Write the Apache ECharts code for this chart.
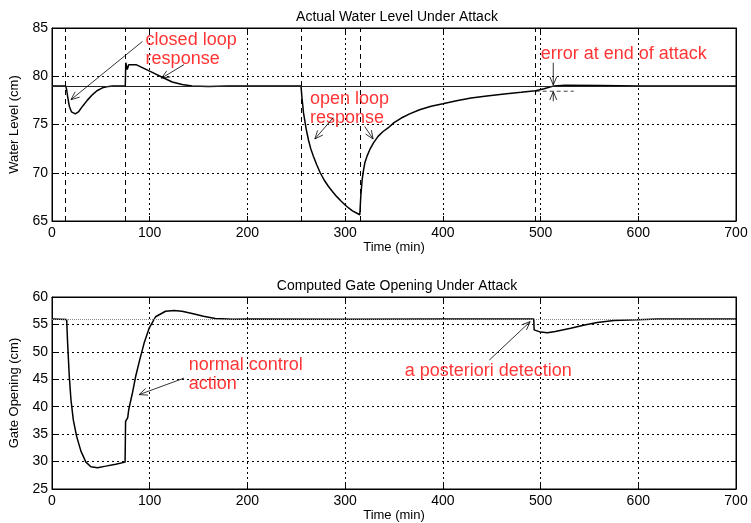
<!DOCTYPE html>
<html>
<head>
<meta charset="utf-8">
<script src="https://cdn.jsdelivr.net/npm/echarts@6/dist/echarts.min.js"></script>
<style>html,body{margin:0;padding:0;background:#fff}#c{width:751px;height:523px}</style>
</head>
<body>
<div id="c"></div>
<script>
// ---- data ----
const xTicks = [0, 100, 200, 300, 400, 500, 600, 700];
const levelTicks = [65, 70, 75, 80, 85];
const gateTicks = [25, 30, 35, 40, 45, 50, 55, 60];

const levelTime = [0,14,15,16,17.7,20,23.8,27,31.3,36,41.5,46,51.7,58,62,75,75.5,77,78.5,80.5,86,92.4,102.6,112.8,123,133.2,143.4,160,180,254.8,255.8,257.4,260,262.4,264.8,267.5,271,274.5,278.5,282.8,287,291.2,295.5,299.7,303.5,307.5,311.6,315,316,317.4,318.7,320.1,322.5,325.2,329,333.7,338.5,343.9,350,357.5,366,376.2,388,400,414,428.9,445,462.9,480,495,503.6,513.7,525,560,600,700];
const levelValue = [79,79,78.6,77.9,76.9,76.3,76.1,76.3,76.9,77.5,78.1,78.5,78.8,78.95,79,79,81.4,80.7,81.2,81.4,81.2,80.9,80.4,79.9,79.4,79.15,78.98,78.95,79,79,77.8,76.2,74.6,73.42,72.5,71.7,70.8,70.0,69.25,68.6,68.05,67.55,67.1,66.69,66.35,66.05,65.83,65.65,67.55,69.28,70.2,71.0,71.75,72.39,73.1,73.77,74.25,74.64,75.2,75.67,76.1,76.53,76.9,77.15,77.45,77.75,77.95,78.16,78.33,78.5,78.7,79.0,79.08,79.05,79,79];

const gateTime = [0,15,16,17.7,19.4,21.8,25.2,29.6,34.7,39.8,46.6,55,65.2,74.8,75.3,77.5,78.5,82.3,85.6,89.7,94.2,99.3,106,116.2,124.8,133,143.4,155,167,185,200,300,400,493,493.4,500,507,515,530.8,545,558,575,598.8,620,700];
const gateValue = [56,55.9,51.55,45.5,41.27,37.6,34.6,31.9,29.9,29.06,28.88,29.17,29.53,29.9,37.33,38.0,39.45,42.5,45.5,48.5,51.55,54.27,56.4,57.4,57.55,57.4,57.0,56.5,56.1,55.95,56,55.95,56,56,54.0,53.6,53.5,53.7,54.3,54.9,55.35,55.7,55.85,56,56];

const levelSetpoint = 79;
const gateSetpoint = 56;
const attackLines = [14, 75, 255, 315, 495];

// annotations: [x, y, text]
const levelNotes = [[95.8, 82.8, 'closed loop\nresponse'], [264, 76.7, 'open loop\nresponse'], [500.2, 82.3, 'error at end of attack']];
const gateNotes = [[140, 45.8, 'normal control\naction'], [360.9, 46.58, 'a posteriori detection']];
// arrows: [x1, y1, x2, y2]
const levelArrows = [[92.5, 83.6, 19.4, 77.57], [135, 81.2, 112, 79.8], [287.8, 75.7, 269, 73.5], [320, 74.8, 328.6, 73.5], [513, 81.4, 513, 79.1], [513, 77.4, 513, 78.4]];
const gateArrows = [[135, 45.2, 89.1, 42.2], [447.5, 48.5, 489.3, 55.5]];
const errorLine = [[495, 78.45], [534, 78.45]];

// ---- chart ----
const FONT = 'Liberation Sans, Arial, Helvetica, sans-serif';
const chart = echarts.init(document.getElementById('c'), null, {renderer: 'canvas'});
const zip = (a, b) => a.map((v, i) => [v, b[i]]);
const dotted = {color: '#000', width: 1, type: [2, 3]};

function xAxisMain(gi) {
  return {
    type: 'value', gridIndex: gi, min: 0, max: 700, interval: 100,
    name: 'Time (min)', nameLocation: 'middle', nameGap: 20,
    nameTextStyle: {color: '#000', fontSize: 13, fontFamily: FONT},
    axisLine: {show: true, onZero: false, lineStyle: {color: '#000', width: 1}},
    axisTick: {show: true, inside: true, length: 5, lineStyle: {color: '#000'}},
    axisLabel: {color: '#000', fontSize: 14, fontFamily: FONT, margin: 5},
    splitLine: {show: true, lineStyle: dotted}
  };
}
function xAxisTop(gi) {
  return {
    type: 'value', gridIndex: gi, min: 0, max: 700, interval: 100, position: 'top',
    axisLine: {show: true, onZero: false, lineStyle: {color: '#000'}},
    axisTick: {show: true, inside: true, length: 5, lineStyle: {color: '#000'}},
    axisLabel: {show: false}, splitLine: {show: false}
  };
}
function yAxisMain(gi, min, max, name) {
  return {
    type: 'value', gridIndex: gi, min: min, max: max, interval: 5,
    name: name, nameLocation: 'middle', nameGap: 31,
    nameTextStyle: {color: '#000', fontSize: 13, fontFamily: FONT},
    axisLine: {show: true, onZero: false, lineStyle: {color: '#000', width: 1}},
    axisTick: {show: true, inside: true, length: 5, lineStyle: {color: '#000'}},
    axisLabel: {color: '#000', fontSize: 14, fontFamily: FONT, margin: 4},
    splitLine: {show: true, lineStyle: dotted}
  };
}
function yAxisRight(gi, min, max) {
  return {
    type: 'value', gridIndex: gi, min: min, max: max, interval: 5, position: 'right',
    axisLine: {show: true, onZero: false, lineStyle: {color: '#000'}},
    axisTick: {show: true, inside: true, length: 5, lineStyle: {color: '#000'}},
    axisLabel: {show: false}, splitLine: {show: false}
  };
}

function arrowRender(params, api) {
  const p1 = api.coord([api.value(0), api.value(1)]);
  const p2 = api.coord([api.value(2), api.value(3)]);
  const ang = Math.atan2(p2[1] - p1[1], p2[0] - p1[0]);
  const L = 9, a = 0.4;
  const h1 = [p2[0] - L * Math.cos(ang - a), p2[1] - L * Math.sin(ang - a)];
  const h2 = [p2[0] - L * Math.cos(ang + a), p2[1] - L * Math.sin(ang + a)];
  const st = {stroke: '#000', lineWidth: 0.8, fill: null};
  return {type: 'group', children: [
    {type: 'line', shape: {x1: p1[0], y1: p1[1], x2: p2[0], y2: p2[1]}, style: st},
    {type: 'polyline', shape: {points: [h1, p2, h2]}, style: st}
  ]};
}

function notesSeries(xi, yi, notes) {
  return {
    type: 'scatter', xAxisIndex: xi, yAxisIndex: yi, symbolSize: 0, silent: true, z: 5,
    data: notes.map(n => ({value: [n[0], n[1]], name: n[2]})),
    label: {show: true, position: 'inside', align: 'left', verticalAlign: 'middle',
      formatter: p => p.name, color: '#ff0000', fontSize: 18, lineHeight: 19, fontFamily: FONT}
  };
}

const option = {
  animation: false,
  backgroundColor: '#fff',
  title: [
    {text: 'Actual Water Level Under Attack', left: 392, top: 5, textAlign: 'center',
     textStyle: {color: '#000', fontSize: 14, fontWeight: 'normal', fontFamily: FONT}},
    {text: 'Computed Gate Opening Under Attack', left: 392, top: 274, textAlign: 'center',
     textStyle: {color: '#000', fontSize: 14, fontWeight: 'normal', fontFamily: FONT}}
  ],
  grid: [
    {left: 49, top: 28, width: 687, height: 193, show: true, borderColor: '#000', borderWidth: 1, backgroundColor: '#fff'},
    {left: 49, top: 297, width: 687, height: 193, show: true, borderColor: '#000', borderWidth: 1, backgroundColor: '#fff'}
  ],
  xAxis: [xAxisMain(0), xAxisMain(1), xAxisTop(0), xAxisTop(1)],
  yAxis: [yAxisMain(0, 65, 85, 'Water Level (cm)'), yAxisMain(1, 25, 60, 'Gate Opening (cm)'), yAxisRight(0, 65, 85), yAxisRight(1, 25, 60)],
  series: [
    {
      type: 'line', xAxisIndex: 0, yAxisIndex: 0, data: zip(levelTime, levelValue),
      showSymbol: false, lineStyle: {color: '#000', width: 1.5}, z: 4,
      markLine: {
        silent: true, symbol: 'none', label: {show: false},
        data: [
          {yAxis: levelSetpoint, lineStyle: {color: '#222', width: 1, type: 'solid'}},
          ...attackLines.map(v => ({xAxis: v, lineStyle: {color: '#000', width: 1, type: [5, 4]}}))
        ]
      }
    },
    {
      type: 'line', xAxisIndex: 0, yAxisIndex: 0, data: errorLine, showSymbol: false,
      lineStyle: {color: '#444', width: 1, type: [4, 3]}, z: 3
    },
    {
      type: 'line', xAxisIndex: 1, yAxisIndex: 1, data: zip(gateTime, gateValue),
      showSymbol: false, lineStyle: {color: '#000', width: 1.5}, z: 4,
      markLine: {
        silent: true, symbol: 'none', label: {show: false},
        data: [{yAxis: gateSetpoint, lineStyle: {color: '#888', width: 1, type: [1, 1]}}]
      }
    },
    {type: 'custom', xAxisIndex: 0, yAxisIndex: 0, renderItem: arrowRender, data: levelArrows,
     encode: {x: [0, 2], y: [1, 3]}, clip: false, silent: true, z: 6},
    {type: 'custom', xAxisIndex: 1, yAxisIndex: 1, renderItem: arrowRender, data: gateArrows,
     encode: {x: [0, 2], y: [1, 3]}, clip: false, silent: true, z: 6},
    notesSeries(0, 0, levelNotes),
    notesSeries(1, 1, gateNotes)
  ]
};
chart.setOption(option);
</script>
</body>
</html>
